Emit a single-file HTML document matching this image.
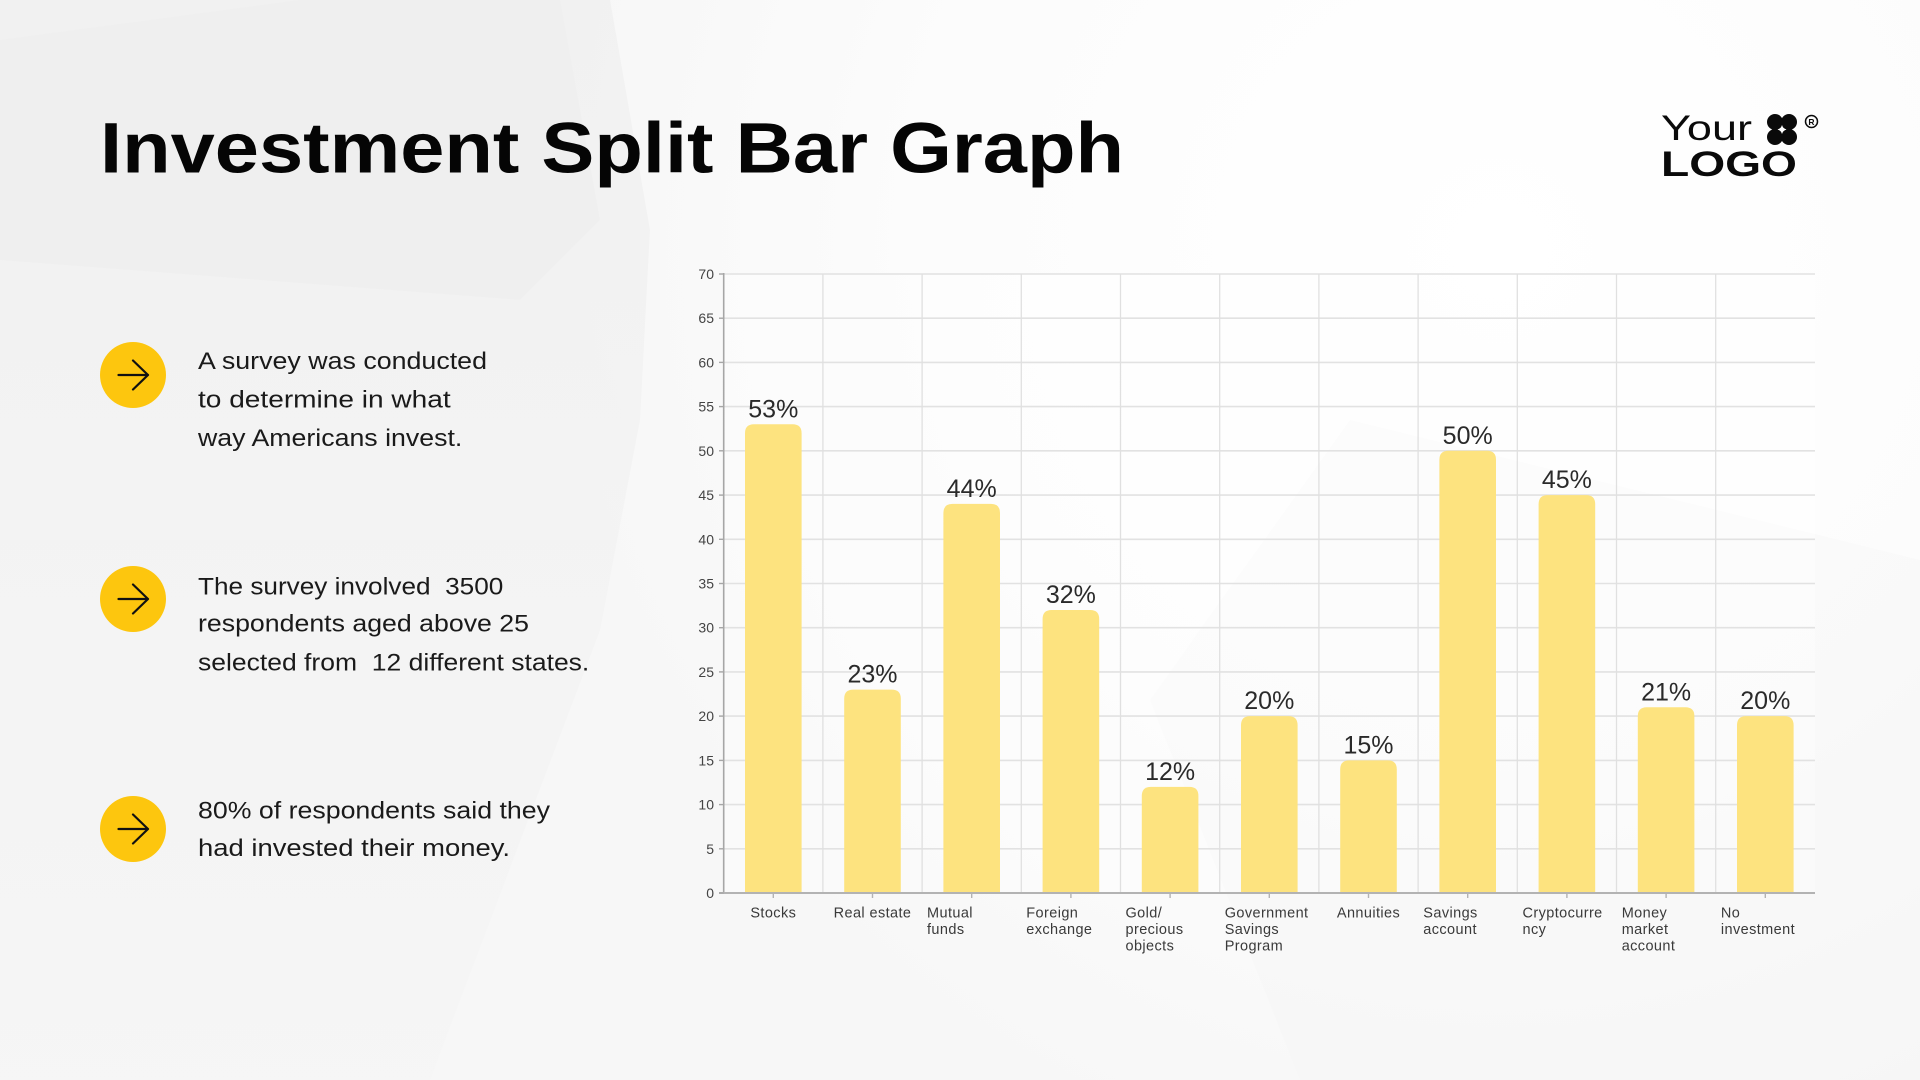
<!DOCTYPE html>
<html>
<head>
<meta charset="utf-8">
<style>
  html,body{margin:0;padding:0;background:#f8f8f8;}
  body{width:1920px;height:1080px;overflow:hidden;}
  svg{display:block;}
  text{font-family:"Liberation Sans", Arial, sans-serif;}
</style>
</head>
<body>
<svg width="1920" height="1080" viewBox="0 0 1920 1080" xmlns="http://www.w3.org/2000/svg">
  <defs>
    <radialGradient id="glow" cx="1500" cy="250" r="950" gradientUnits="userSpaceOnUse">
      <stop offset="0" stop-color="#ffffff"/>
      <stop offset="0.6" stop-color="#fcfcfc"/>
      <stop offset="1" stop-color="#f7f7f7"/>
    </radialGradient>
    <linearGradient id="leftg" x1="0" y1="0" x2="0" y2="1">
      <stop offset="0" stop-color="#efefef"/>
      <stop offset="1" stop-color="#f5f5f5"/>
    </linearGradient>
  </defs>

  <!-- background -->
  <rect x="0" y="0" width="1920" height="1080" fill="url(#glow)"/>
  <polygon points="0,0 610,0 650,230 640,420 600,630 430,1080 0,1080" fill="url(#leftg)" opacity="0.75"/>
  <polygon points="0,40 300,0 560,0 600,220 520,300 0,260" fill="#ececec" opacity="0.35"/>
  <polygon points="1350,420 1920,560 1920,1080 1300,1080 1150,700" fill="#f5f5f5" opacity="0.4"/>

  <!-- Title -->
  <text x="100" y="172.7" font-size="71" font-weight="bold" fill="#050505" textLength="1024" lengthAdjust="spacingAndGlyphs">Investment Split Bar Graph</text>

  <!-- Logo -->
  <text x="1661" y="140" font-size="35" fill="#0a0a0a" textLength="91" lengthAdjust="spacingAndGlyphs">Your</text>
  <text x="1661" y="176" font-size="35" font-weight="bold" fill="#0a0a0a" textLength="136" lengthAdjust="spacingAndGlyphs">LOGO</text>
  <g fill="#0a0a0a">
    <circle cx="1775" cy="122" r="8"/>
    <circle cx="1789" cy="122" r="8"/>
    <circle cx="1775" cy="137" r="8"/>
    <circle cx="1789" cy="137" r="8"/>
  </g>
  <path d="M1782 125 L1783.3 128.2 L1786.5 129.5 L1783.3 130.8 L1782 134 L1780.7 130.8 L1777.5 129.5 L1780.7 128.2 Z" fill="#ffffff"/>
  <circle cx="1811.5" cy="121.5" r="6" fill="none" stroke="#0a0a0a" stroke-width="1.5"/>
  <text x="1811.5" y="124.8" font-size="8.5" font-weight="bold" text-anchor="middle" fill="#0a0a0a">R</text>

  <!-- Bullets -->
  <g>
    <circle cx="133" cy="375" r="33" fill="#FDC60E"/>
    <circle cx="133" cy="599" r="33" fill="#FDC60E"/>
    <circle cx="133" cy="829" r="33" fill="#FDC60E"/>
    <g fill="none" stroke="#111" stroke-width="2.2" stroke-linecap="round" stroke-linejoin="round">
      <path d="M118.5 375 H148 M133 360.5 L148 375 L133 389.5"/>
      <path d="M118.5 599 H148 M133 584.5 L148 599 L133 613.5"/>
      <path d="M118.5 829 H148 M133 814.5 L148 829 L133 843.5"/>
    </g>
  </g>

  <!-- Paragraph text -->
  <g font-size="24" fill="#1a1a1a">
    <text x="198" y="369" textLength="289" lengthAdjust="spacingAndGlyphs">A survey was conducted</text>
    <text x="198" y="407.3" textLength="252.7" lengthAdjust="spacingAndGlyphs">to determine in what</text>
    <text x="198" y="446" textLength="264.3" lengthAdjust="spacingAndGlyphs">way Americans invest.</text>

    <text x="198" y="594.3" textLength="305.3" lengthAdjust="spacingAndGlyphs" xml:space="preserve">The survey involved  3500</text>
    <text x="198" y="631.7" textLength="331" lengthAdjust="spacingAndGlyphs">respondents aged above 25</text>
    <text x="198" y="670.7" textLength="391.3" lengthAdjust="spacingAndGlyphs" xml:space="preserve">selected from  12 different states.</text>

    <text x="198" y="818.3" textLength="352" lengthAdjust="spacingAndGlyphs">80% of respondents said they</text>
    <text x="198" y="856" textLength="312" lengthAdjust="spacingAndGlyphs">had invested their money.</text>
  </g>

  <!-- Chart: plot background -->
  <rect x="723.7" y="274" width="1091.3" height="619" fill="#ffffff" opacity="0.35"/>

  <!-- horizontal gridlines -->
  <g stroke="#e2e2e2" stroke-width="1.6">
    <line x1="723.7" x2="1815" y1="848.8" y2="848.8"/>
    <line x1="723.7" x2="1815" y1="804.6" y2="804.6"/>
    <line x1="723.7" x2="1815" y1="760.4" y2="760.4"/>
    <line x1="723.7" x2="1815" y1="716.1" y2="716.1"/>
    <line x1="723.7" x2="1815" y1="671.9" y2="671.9"/>
    <line x1="723.7" x2="1815" y1="627.7" y2="627.7"/>
    <line x1="723.7" x2="1815" y1="583.5" y2="583.5"/>
    <line x1="723.7" x2="1815" y1="539.3" y2="539.3"/>
    <line x1="723.7" x2="1815" y1="495.1" y2="495.1"/>
    <line x1="723.7" x2="1815" y1="450.8" y2="450.8"/>
    <line x1="723.7" x2="1815" y1="406.6" y2="406.6"/>
    <line x1="723.7" x2="1815" y1="362.4" y2="362.4"/>
    <line x1="723.7" x2="1815" y1="318.2" y2="318.2"/>
    <line x1="723.7" x2="1815" y1="274" y2="274"/>
  </g>
  <!-- vertical gridlines -->
  <g stroke="#e0e0e0" stroke-width="1.3">
    <line y1="274" y2="893" x1="822.9" x2="822.9"/>
    <line y1="274" y2="893" x1="922.1" x2="922.1"/>
    <line y1="274" y2="893" x1="1021.3" x2="1021.3"/>
    <line y1="274" y2="893" x1="1120.5" x2="1120.5"/>
    <line y1="274" y2="893" x1="1219.7" x2="1219.7"/>
    <line y1="274" y2="893" x1="1318.9" x2="1318.9"/>
    <line y1="274" y2="893" x1="1418.1" x2="1418.1"/>
    <line y1="274" y2="893" x1="1517.3" x2="1517.3"/>
    <line y1="274" y2="893" x1="1616.5" x2="1616.5"/>
    <line y1="274" y2="893" x1="1715.7" x2="1715.7"/>
  </g>

  <!-- bars -->
  <g fill="#FDE37F">
    <path d="M745 893 V433.3 Q745 424.3 754 424.3 H792.6 Q801.6 424.3 801.6 433.3 V893 Z"/>
    <path d="M844.2 893 V698.6 Q844.2 689.6 853.2 689.6 H891.8 Q900.8 689.6 900.8 698.6 V893 Z"/>
    <path d="M943.4 893 V512.9 Q943.4 503.9 952.4 503.9 H991 Q1000 503.9 1000 512.9 V893 Z"/>
    <path d="M1042.6 893 V619 Q1042.6 610 1051.6 610 H1090.2 Q1099.2 610 1099.2 619 V893 Z"/>
    <path d="M1141.8 893 V795.9 Q1141.8 786.9 1150.8 786.9 H1189.4 Q1198.4 786.9 1198.4 795.9 V893 Z"/>
    <path d="M1241 893 V725.1 Q1241 716.1 1250 716.1 H1288.6 Q1297.6 716.1 1297.6 725.1 V893 Z"/>
    <path d="M1340.2 893 V769.4 Q1340.2 760.4 1349.2 760.4 H1387.8 Q1396.8 760.4 1396.8 769.4 V893 Z"/>
    <path d="M1439.4 893 V459.8 Q1439.4 450.8 1448.4 450.8 H1487 Q1496 450.8 1496 459.8 V893 Z"/>
    <path d="M1538.6 893 V504.1 Q1538.6 495.1 1547.6 495.1 H1586.2 Q1595.2 495.1 1595.2 504.1 V893 Z"/>
    <path d="M1637.8 893 V716.3 Q1637.8 707.3 1646.8 707.3 H1685.4 Q1694.4 707.3 1694.4 716.3 V893 Z"/>
    <path d="M1737 893 V725.1 Q1737 716.1 1746 716.1 H1784.6 Q1793.6 716.1 1793.6 725.1 V893 Z"/>
  </g>

  <!-- axes -->
  <line x1="723.7" y1="273" x2="723.7" y2="893" stroke="#a6a6a6" stroke-width="1.6"/>
  <line x1="719" y1="893" x2="1815" y2="893" stroke="#b3b3b3" stroke-width="2"/>
  <!-- y ticks -->
  <g stroke="#a6a6a6" stroke-width="1.4">
    <line x1="719" x2="723.7" y1="893" y2="893"/>
    <line x1="719" x2="723.7" y1="848.8" y2="848.8"/>
    <line x1="719" x2="723.7" y1="804.6" y2="804.6"/>
    <line x1="719" x2="723.7" y1="760.4" y2="760.4"/>
    <line x1="719" x2="723.7" y1="716.1" y2="716.1"/>
    <line x1="719" x2="723.7" y1="671.9" y2="671.9"/>
    <line x1="719" x2="723.7" y1="627.7" y2="627.7"/>
    <line x1="719" x2="723.7" y1="583.5" y2="583.5"/>
    <line x1="719" x2="723.7" y1="539.3" y2="539.3"/>
    <line x1="719" x2="723.7" y1="495.1" y2="495.1"/>
    <line x1="719" x2="723.7" y1="450.8" y2="450.8"/>
    <line x1="719" x2="723.7" y1="406.6" y2="406.6"/>
    <line x1="719" x2="723.7" y1="362.4" y2="362.4"/>
    <line x1="719" x2="723.7" y1="318.2" y2="318.2"/>
    <line x1="719" x2="723.7" y1="274" y2="274"/>
  </g>
  <!-- x ticks -->
  <g stroke="#b3b3b3" stroke-width="1.4">
    <line y1="893" y2="898" x1="773.3" x2="773.3"/>
    <line y1="893" y2="898" x1="872.5" x2="872.5"/>
    <line y1="893" y2="898" x1="971.7" x2="971.7"/>
    <line y1="893" y2="898" x1="1070.9" x2="1070.9"/>
    <line y1="893" y2="898" x1="1170.1" x2="1170.1"/>
    <line y1="893" y2="898" x1="1269.3" x2="1269.3"/>
    <line y1="893" y2="898" x1="1368.5" x2="1368.5"/>
    <line y1="893" y2="898" x1="1467.7" x2="1467.7"/>
    <line y1="893" y2="898" x1="1566.9" x2="1566.9"/>
    <line y1="893" y2="898" x1="1666.1" x2="1666.1"/>
    <line y1="893" y2="898" x1="1765.3" x2="1765.3"/>
  </g>

  <!-- y labels -->
  <g font-size="14" fill="#444" text-anchor="end">
    <text x="714" y="898">0</text>
    <text x="714" y="853.8">5</text>
    <text x="714" y="809.6">10</text>
    <text x="714" y="765.4">15</text>
    <text x="714" y="721.1">20</text>
    <text x="714" y="676.9">25</text>
    <text x="714" y="632.7">30</text>
    <text x="714" y="588.5">35</text>
    <text x="714" y="544.3">40</text>
    <text x="714" y="500.1">45</text>
    <text x="714" y="455.8">50</text>
    <text x="714" y="411.6">55</text>
    <text x="714" y="367.4">60</text>
    <text x="714" y="323.2">65</text>
    <text x="714" y="279">70</text>
  </g>

  <!-- value labels -->
  <g font-size="25" fill="#2a2a2a" text-anchor="middle">
    <text x="773.3" y="417.3">53%</text>
    <text x="872.5" y="682.6">23%</text>
    <text x="971.7" y="496.9">44%</text>
    <text x="1070.9" y="603">32%</text>
    <text x="1170.1" y="779.9">12%</text>
    <text x="1269.3" y="709.1">20%</text>
    <text x="1368.5" y="753.4">15%</text>
    <text x="1467.7" y="443.8">50%</text>
    <text x="1566.9" y="488.1">45%</text>
    <text x="1666.1" y="700.3">21%</text>
    <text x="1765.3" y="709.1">20%</text>
  </g>

  <!-- x labels -->
  <g font-size="14.5" fill="#3a3a3a" letter-spacing="0.4">
    <text x="773.3" y="917.3" text-anchor="middle">Stocks</text>
    <text x="872.5" y="917.3" text-anchor="middle">Real estate</text>
    <text x="927" y="917.3">Mutual</text>
    <text x="927" y="934">funds</text>
    <text x="1026.3" y="917.3">Foreign</text>
    <text x="1026.3" y="934">exchange</text>
    <text x="1125.5" y="917.3">Gold/</text>
    <text x="1125.5" y="934">precious</text>
    <text x="1125.5" y="950.7">objects</text>
    <text x="1224.7" y="917.3">Government</text>
    <text x="1224.7" y="934">Savings</text>
    <text x="1224.7" y="950.7">Program</text>
    <text x="1368.5" y="917.3" text-anchor="middle">Annuities</text>
    <text x="1423.3" y="917.3">Savings</text>
    <text x="1423.3" y="934">account</text>
    <text x="1522.5" y="917.3">Cryptocurre</text>
    <text x="1522.5" y="934">ncy</text>
    <text x="1621.7" y="917.3">Money</text>
    <text x="1621.7" y="934">market</text>
    <text x="1621.7" y="950.7">account</text>
    <text x="1720.9" y="917.3">No</text>
    <text x="1720.9" y="934">investment</text>
  </g>
</svg>
</body>
</html>
